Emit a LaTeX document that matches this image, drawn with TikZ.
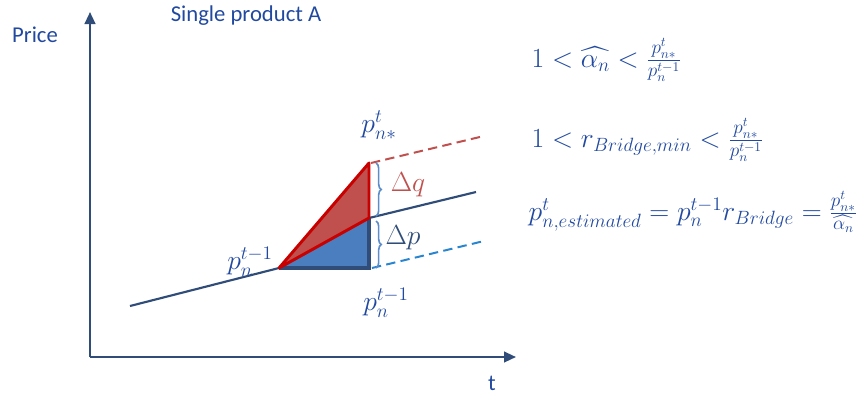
\documentclass[tikz,border=0pt]{standalone}
\usepackage{fontspec}
\setmainfont{Carlito}
\usepackage{amsmath}
\usetikzlibrary{arrows.meta,decorations.pathreplacing}
\definecolor{txtblue}{HTML}{2149A0}
\definecolor{axisblue}{HTML}{2F4D78}
\definecolor{fillred}{HTML}{C0504D}
\definecolor{edgered}{HTML}{C80000}
\definecolor{fillblue}{HTML}{4A7EBE}
\definecolor{dashblue}{HTML}{2A85D0}
\definecolor{bracecol}{HTML}{5B8CCB}

\begin{document}
\begin{tikzpicture}[x=0.75pt, y=-0.75pt,
  every node/.style={text=txtblue, font=\fontsize{17}{20}\selectfont},
  eq/.style={anchor=west, font=\fontsize{20.5}{24}\selectfont},
  lbl/.style={font=\fontsize{20}{23}\selectfont},
  axis/.style={draw=axisblue, line width=1.6pt, -{Triangle[length=9pt,width=8pt]}},
  trend/.style={draw=axisblue, line width=1.6pt},
  br/.style={draw=bracecol, line width=1.2pt, decorate, decoration={brace, amplitude=4pt}}
]
  \useasboundingbox (0,0) rectangle (868,401);
  % punti
  \coordinate (O) at (90,357);
  \coordinate (yEnd) at (90,12);
  \coordinate (xEnd) at (516,357);
  \coordinate (L0) at (130,306);
  \coordinate (A) at (279,268);
  \coordinate (B) at (369,218);
  \coordinate (C) at (369,163);
  \coordinate (D) at (369,268);
  \coordinate (L1) at (476,192);
  \coordinate (Rd) at (484,136);
  \coordinate (Bd) at (484,241);

  % assi
  \draw[axis] (O) -- (yEnd);
  \draw[axis] (O) -- (xEnd);
  \node (price) at (35,35) {Price};
  \node (title) at (246,16) {Single product A};
  \node (tlab) at (492,383) {t};

  % linee di tendenza
  \draw[trend] (L0) -- (A);
  \draw[trend] (B) -- (L1);
  \draw[fillred, line width=1.5pt, dash pattern=on 7pt off 4pt] (C) ++(2,0) -- (Rd);
  \draw[dashblue, line width=1.5pt, dash pattern=on 7pt off 4pt] (D) ++(3,0) -- (Bd);

  % triangoli
  \fill[fillblue] (A) -- (D) -- (B) -- cycle;
  \draw[axisblue, line width=2.4pt] (A) -- (D) -- (B);
  \filldraw[fill=fillred, draw=edgered, line width=2.2pt, line join=round] (A) -- (C) -- (B) -- cycle;

  % graffe
  \draw[br] (376,163) -- (376,216);
  \draw[br] (376,221) -- (376,268);
  \node[lbl, text=fillred] (dq) at (408,185) {$\Delta q$};
  \node[lbl, text=axisblue] (dp) at (403,238) {$\Delta p$};

  % etichette dei prezzi
  \node[lbl] (pstar) at (379,125) {$p^t_{n*}$};
  \node[lbl] (pold) at (250,262) {$p^{t-1}_n$};
  \node[lbl] (pbase) at (386,303) {$p^{t-1}_n$};

  % formule
  \node[eq] (eq1) at (527,60) {$1<\widehat{\alpha_n}<\frac{p^t_{n*}}{p^{t-1}_n}$};
  \node[eq] (eq2) at (527,140) {$1<r_{Bridge,min}<\frac{p^t_{n*}}{p^{t-1}_n}$};
  \node[eq] (eq3) at (524,212) {$p^t_{n,estimated}=p^{t-1}_n r_{Bridge}=\frac{p^t_{n*}}{\widehat{\alpha_n}}$};
\end{tikzpicture}
\end{document}
